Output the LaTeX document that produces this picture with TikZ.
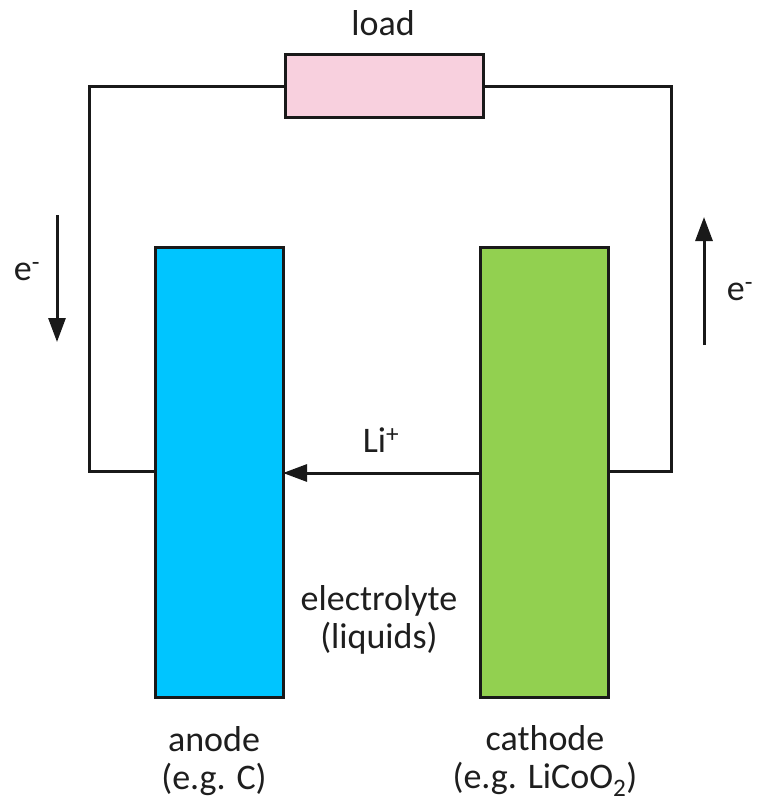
\documentclass[tikz,border=0pt]{standalone}
\usepackage{fontspec}
\setmainfont{Carlito}
\usetikzlibrary{arrows.meta}
\definecolor{anodeblue}{RGB}{0,197,255}
\definecolor{cathgreen}{RGB}{146,208,80}
\definecolor{loadpink}{RGB}{248,208,222}
\definecolor{txt}{RGB}{30,30,30}
\begin{document}
\begin{tikzpicture}[x=1pt,y=-1pt,
  wire/.style={line width=3pt,black!90},
  elec/.style={draw=black!90,line width=3pt,minimum width=128pt,minimum height=450pt,inner sep=0pt,outer sep=0pt},
  lbl/.style={font=\fontsize{36}{38}\selectfont,text=txt,align=center,inner sep=0pt},
  flow/.style={line width=3pt,black!90,-{Triangle[width=17pt,length=24pt]}}]
\useasboundingbox (0,0) rectangle (758,803);
\node[elec,fill=anodeblue] (anode) at (219,472) {};
\node[elec,fill=cathgreen] (cathode) at (544,472) {};
\node[draw=black!90,line width=3pt,fill=loadpink,minimum width=198pt,minimum height=63pt,inner sep=0pt,outer sep=0pt] (load) at (384,86) {};
\coordinate (tl) at (89,86);
\coordinate (tr) at (671,86);
\coordinate (bl) at (89,471);
\coordinate (br) at (671,471);
\draw[wire] (load.west) -- (tl) -- (bl) -- (bl -| anode.west);
\draw[wire] (load.east) -- (tr) -- (br) -- (br -| cathode.east);
\draw[flow] (cathode.west |- 0,473) -- (anode.east |- 0,473);
\coordinate (la1) at (57,215);
\coordinate (la2) at (57,342);
\coordinate (ra1) at (704,345);
\coordinate (ra2) at (704,217);
\draw[flow] (la1) -- (la2);
\draw[flow] (ra1) -- (ra2);
\node[lbl,anchor=base] (loadtxt) at (383,35) {load};
\node[lbl,anchor=base] (litxt) at (381,452) {Li\textsuperscript{+}};
\node[lbl,anchor=base] (el) at (27,280) {e\textsuperscript{-}};
\node[lbl,anchor=base] (er) at (740,300) {e\textsuperscript{-}};
\node[lbl] (elyte) at (379,620) {electrolyte\\(liquids)};
\node[lbl] (antxt) at (214,761) {anode\\(e.g. C)};
\node[lbl] (catxt) at (545,761) {cathode\\(e.g. LiCoO\textsubscript{2})};
\end{tikzpicture}
\end{document}
